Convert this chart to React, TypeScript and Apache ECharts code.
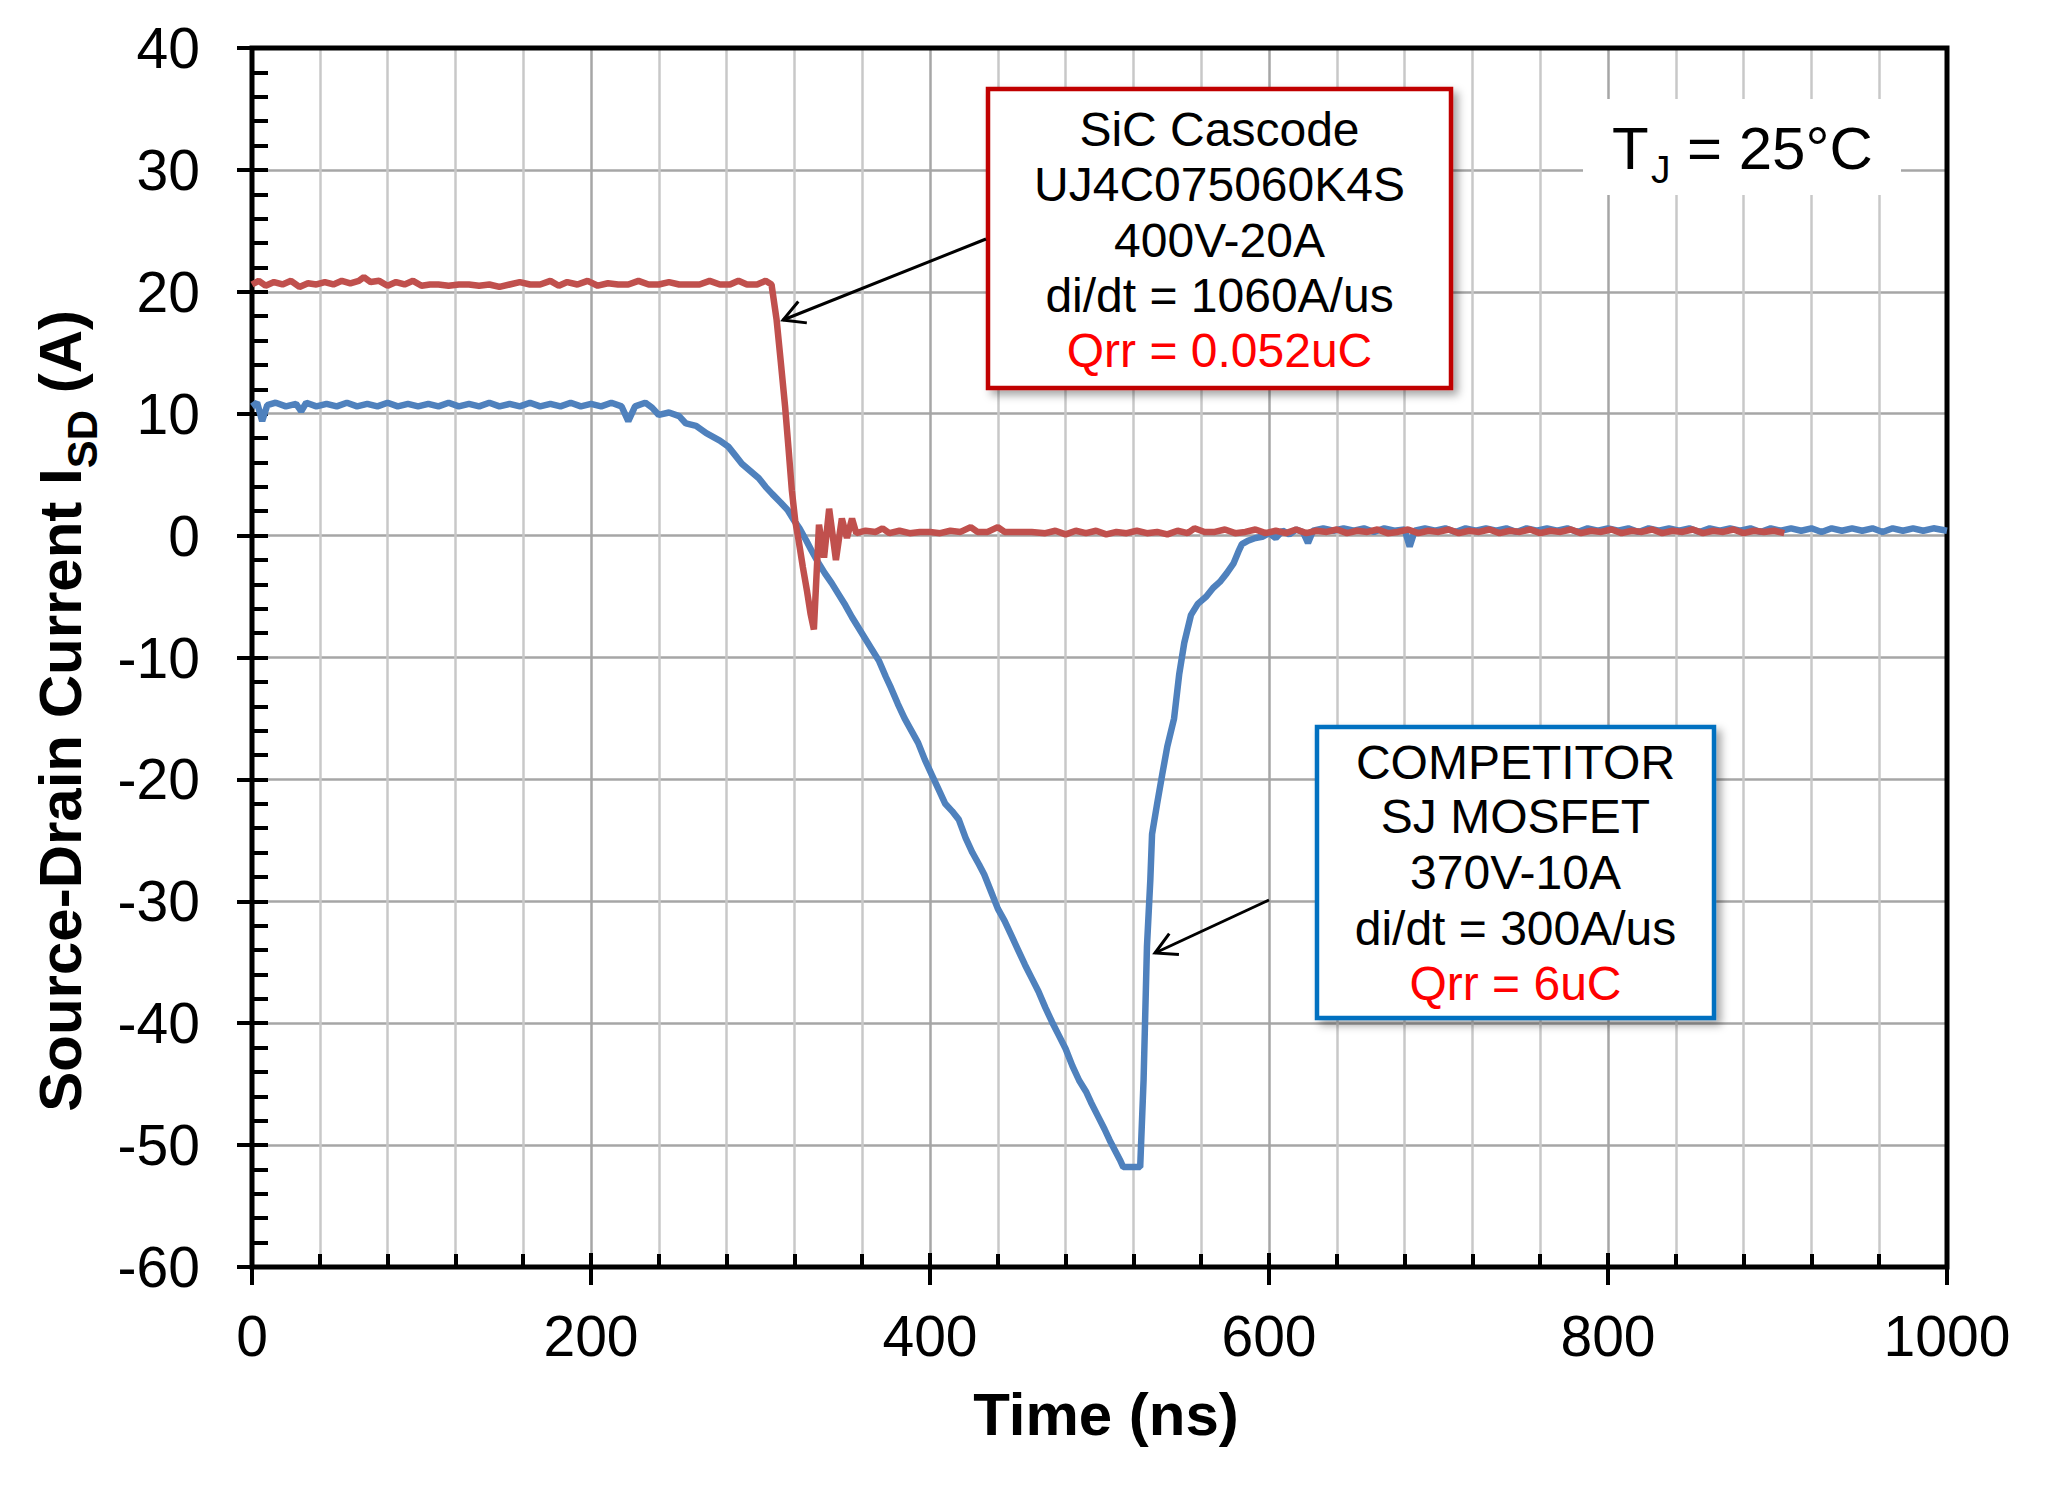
import * as echarts from "echarts";
import { useEffect, useRef } from "react";

const FONT = "'Liberation Sans', Arial, sans-serif";

// axis ranges
const timeRange = [0, 1000];
const timeStep = 200;
const currentRange = [-60, 40];
const currentStep = 10;

// SiC cascode trace, [time ns, current A]
const sicTrace = [
  [0, 20.6], [4, 20.9], [8, 20.5], [13, 20.8], [18, 20.6], [23, 20.9], [28, 20.4], [33, 20.7],
  [38, 20.6], [43, 20.8], [48, 20.6], [53, 20.9], [58, 20.7], [63, 20.9], [66, 21.2], [70, 20.8],
  [75, 20.9], [80, 20.5], [85, 20.8], [90, 20.6], [95, 20.9], [100, 20.5], [105, 20.6], [110, 20.6],
  [116, 20.5], [122, 20.6], [128, 20.6], [134, 20.5], [140, 20.6], [146, 20.4], [152, 20.6], [158, 20.8],
  [164, 20.6], [170, 20.6], [176, 20.9], [181, 20.5], [186, 20.8], [192, 20.6], [198, 20.9], [204, 20.5],
  [210, 20.7], [216, 20.6], [222, 20.6], [228, 20.9], [234, 20.6], [240, 20.6], [246, 20.8], [252, 20.6],
  [258, 20.6], [264, 20.6], [270, 20.9], [276, 20.6], [282, 20.6], [287, 20.9], [292, 20.6], [298, 20.6],
  [303, 20.9], [306.5, 20.6],
  [309.5, 17.7], [312, 14.2], [314.5, 10.6], [316.5, 7.2], [318.5, 3.7], [320.5, 1.2], [322.5, -0.4],
  [325, -2.6], [327.5, -4.6], [329.5, -6.4], [331.5, -7.7], [334.5, 0.9], [337.5, -1.8], [340.5, 2.2],
  [344.5, -2.0], [348, 1.4], [351, -0.2], [354, 1.4], [356.5, 0.2],
  [362, 0.4], [368, 0.3], [372, 0.6], [376, 0.2], [382, 0.4], [388, 0.2], [394, 0.3], [400, 0.3],
  [406, 0.2], [412, 0.4], [418, 0.3], [424, 0.7], [428, 0.3], [434, 0.3], [440, 0.7], [444, 0.3],
  [452, 0.3], [460, 0.3], [468, 0.2], [474, 0.4], [480, 0.1], [486, 0.4], [492, 0.2], [498, 0.4],
  [504, 0.1], [510, 0.3], [516, 0.2], [522, 0.4], [528, 0.2], [534, 0.3], [540, 0.1], [546, 0.4],
  [552, 0.2], [556, 0.6], [562, 0.3], [568, 0.3], [574, 0.5], [580, 0.2], [586, 0.3], [592, 0.5],
  [598, 0.2], [604, 0.4], [610, 0.2], [616, 0.5], [622, 0.2], [628, 0.4], [634, 0.3], [640, 0.5],
  [646, 0.2], [652, 0.4], [658, 0.3], [664, 0.5], [670, 0.2], [676, 0.3], [682, 0.5], [688, 0.2],
  [694, 0.4], [700, 0.3], [706, 0.5], [712, 0.2], [718, 0.4], [724, 0.3], [730, 0.5], [736, 0.2],
  [742, 0.4], [748, 0.3], [754, 0.5], [760, 0.2], [766, 0.4], [772, 0.3], [778, 0.5], [784, 0.2],
  [790, 0.4], [796, 0.3], [802, 0.5], [808, 0.2], [814, 0.4], [820, 0.3], [826, 0.5], [832, 0.2],
  [838, 0.4], [844, 0.3], [850, 0.5], [856, 0.2], [862, 0.4], [868, 0.3], [874, 0.5], [880, 0.2],
  [886, 0.4], [892, 0.3], [898, 0.4], [904, 0.2],
];

// competitor SJ MOSFET trace, [time ns, current A]
const sjTrace = [
  [0, 10.6], [3, 10.9], [6, 9.4], [9, 10.7], [14, 10.9], [20, 10.6], [26, 10.8], [29, 10.2],
  [32, 10.9], [38, 10.6], [44, 10.8], [50, 10.6], [56, 10.9], [62, 10.6], [68, 10.8], [74, 10.6],
  [80, 10.9], [86, 10.6], [92, 10.8], [98, 10.6], [104, 10.8], [110, 10.6], [116, 10.9], [122, 10.6],
  [128, 10.8], [134, 10.6], [140, 10.9], [146, 10.6], [152, 10.8], [158, 10.6], [164, 10.9], [170, 10.6],
  [176, 10.8], [182, 10.6], [188, 10.9], [194, 10.6], [200, 10.8], [206, 10.6], [212, 10.9], [218, 10.6],
  [222, 9.4], [226, 10.6], [232, 10.9], [236, 10.5], [240, 9.9], [246, 10.1], [252, 9.8], [256, 9.2],
  [262, 9.0], [268, 8.4], [272, 8.1], [276, 7.8], [281, 7.3], [285, 6.6], [289, 5.9], [294, 5.3],
  [299, 4.7], [303, 4.0], [307, 3.4], [312, 2.7], [316, 2.1], [320, 1.2], [323, 0.6], [327, -0.4],
  [330, -1.2], [334, -2.2], [338, -3.1], [342, -3.9], [346, -4.8], [350, -5.7], [354, -6.7], [358, -7.6],
  [362, -8.5], [366, -9.4], [370, -10.3], [374, -11.6], [377, -12.5], [381, -13.8], [385, -15.0], [389, -16.0],
  [393, -17.0], [397, -18.4], [401, -19.6], [405, -20.8], [409, -22.0], [413, -22.6], [417, -23.3], [421, -24.8],
  [425, -26.0], [429, -27.0], [432, -27.8], [436, -29.2], [440, -30.6], [444, -31.6], [448, -32.8], [452, -34.0],
  [456, -35.2], [460, -36.3], [464, -37.4], [468, -38.7], [472, -39.9], [476, -41.0], [480, -42.1], [484, -43.5],
  [488, -44.7], [492, -45.6], [495, -46.5], [499, -47.6], [503, -48.7], [506, -49.6], [509, -50.4], [512, -51.2],
  [514, -51.8], [519, -51.8], [524, -51.8], [526, -44.7], [528, -33.7], [530, -28.2], [531, -24.5], [534, -22.0],
  [537, -19.6], [540, -17.3], [544, -15.0], [547, -11.4], [550, -8.8], [554, -6.5], [558, -5.6], [563, -5.0],
  [567, -4.3], [571, -3.8], [575, -3.1], [579, -2.3], [582, -1.3], [584, -0.7], [588, -0.4], [592, -0.2],
  [596, -0.1], [600, 0.2], [604, -0.2], [608, 0.4], [612, 0.1], [616, 0.5], [620, 0.3], [623, -0.6],
  [626, 0.4], [632, 0.6], [638, 0.4], [644, 0.6], [650, 0.4], [656, 0.6], [662, 0.3], [668, 0.6],
  [674, 0.4], [680, 0.5], [683, -0.9], [686, 0.4], [692, 0.6], [698, 0.4], [704, 0.6], [710, 0.3],
  [716, 0.6], [722, 0.4], [728, 0.6], [734, 0.4], [740, 0.6], [746, 0.3], [752, 0.6], [758, 0.4],
  [764, 0.6], [770, 0.4], [776, 0.6], [782, 0.3], [788, 0.6], [794, 0.4], [800, 0.6], [806, 0.4],
  [812, 0.6], [818, 0.3], [824, 0.6], [830, 0.4], [836, 0.6], [842, 0.4], [848, 0.6], [854, 0.3],
  [860, 0.6], [866, 0.4], [872, 0.6], [878, 0.4], [884, 0.6], [890, 0.3], [896, 0.6], [902, 0.4],
  [908, 0.6], [914, 0.4], [920, 0.6], [926, 0.3], [932, 0.6], [938, 0.4], [944, 0.6], [950, 0.4],
  [956, 0.6], [962, 0.3], [968, 0.6], [974, 0.4], [980, 0.6], [986, 0.4], [992, 0.6], [1000, 0.4],
];

const sicNote = ["SiC Cascode", "UJ4C075060K4S", "400V-20A", "di/dt = 1060A/us", "Qrr = 0.052uC"];
const sjNote = ["COMPETITOR", "SJ MOSFET", "370V-10A", "di/dt = 300A/us", "Qrr = 6uC"];

const GRID = { left: 252, top: 48, width: 1695, height: 1219 };

function textWidth(text: string, font: string) {
  const ctx = document.createElement("canvas").getContext("2d");
  if (!ctx) return text.length * 30;
  ctx.font = font;
  return ctx.measureText(text).width;
}

function txt(text: string, x: number, y: number, size: number, extra: any = {}) {
  return {
    type: "text",
    x,
    y,
    z: 10,
    style: {
      text,
      fontSize: size,
      fontFamily: FONT,
      fill: "#000",
      align: "center",
      verticalAlign: "middle",
      ...extra,
    },
  };
}

// arrow from tail (x1,y1) to tip (x2,y2)
function arrow(x1: number, y1: number, x2: number, y2: number) {
  const a = Math.atan2(y1 - y2, x1 - x2);
  const len = 24;
  const spread = 0.5;
  return [
    { type: "line", z: 10, shape: { x1, y1, x2, y2 }, style: { stroke: "#000", lineWidth: 3 } },
    {
      type: "polyline",
      z: 10,
      shape: {
        points: [
          [x2 + len * Math.cos(a + spread), y2 + len * Math.sin(a + spread)],
          [x2, y2],
          [x2 + len * Math.cos(a - spread), y2 + len * Math.sin(a - spread)],
        ],
      },
      style: { stroke: "#000", lineWidth: 3, fill: null },
    },
  ];
}

function noteBox(lines: string[], x: number, y: number, w: number, h: number, color: string, lineYs: number[]) {
  return [
    {
      type: "rect",
      z: 10,
      shape: { x, y, width: w, height: h },
      style: {
        fill: "#fff",
        stroke: color,
        lineWidth: 4.5,
        shadowBlur: 8,
        shadowOffsetX: 5,
        shadowOffsetY: 5,
        shadowColor: "rgba(0,0,0,0.35)",
      },
    },
    ...lines.map((t, i) =>
      txt(t, x + w / 2, lineYs[i], 48, { fill: i === lines.length - 1 ? "#ff0000" : "#000" })
    ),
  ];
}

function yTitle() {
  const bold = `bold 60px ${FONT}`;
  const part1 = "Source-Drain Current I";
  const w1 = textWidth(part1, bold);
  const w2 = textWidth("SD", `bold 42px ${FONT}`);
  const w3 = textWidth(" (A)", bold);
  const total = w1 + w2 + w3;
  const endY = 310;
  const left = { align: "left", fontWeight: "bold" };
  return {
    type: "group",
    x: 60.5,
    y: endY + total,
    rotation: Math.PI / 2,
    children: [
      txt(part1, 0, 0, 60, left),
      txt("SD", w1, 21.5, 42, left),
      txt(" (A)", w1 + w2, 0, 60, left),
    ],
  };
}

function getOption() {
  const axisFont = { fontSize: 57, color: "#000", fontFamily: FONT, formatter: (v: number) => String(v) };
  const tickStyle = { color: "#000", width: 4 };
  return {
    animation: false,
    backgroundColor: "#fff",
    textStyle: { fontFamily: FONT },
    grid: {
      ...GRID,
      show: true,
      z: 1,
      backgroundColor: "transparent",
      borderColor: "#000",
      borderWidth: 5,
      containLabel: false,
      outerBoundsMode: "none",
    },
    xAxis: [
      {
        type: "value",
        min: timeRange[0],
        max: timeRange[1],
        interval: timeStep,
        position: "bottom",
        axisLine: { show: false, onZero: false },
        axisTick: { show: true, inside: true, length: 14, lineStyle: tickStyle },
        minorTick: { show: true, splitNumber: 5, length: 13, lineStyle: tickStyle },
        axisLabel: { ...axisFont, margin: 40 },
        splitLine: {
          show: true,
          showMinLine: false,
          showMaxLine: false,
          lineStyle: { color: "#a6a6a6", width: 2.5 },
        },
        minorSplitLine: { show: true, lineStyle: { color: "#c8c8c8", width: 2.5 } },
      },
      {
        // outer half of the major ticks, moved down onto the bottom edge
        type: "value",
        min: timeRange[0],
        max: timeRange[1],
        interval: timeStep,
        position: "top",
        offset: -GRID.height,
        axisLine: { show: false, onZero: false },
        axisTick: { show: true, inside: true, length: 18, lineStyle: tickStyle },
        axisLabel: { show: false },
        splitLine: { show: false },
      },
    ],
    yAxis: [
      {
        type: "value",
        min: currentRange[0],
        max: currentRange[1],
        interval: currentStep,
        position: "left",
        axisLine: { show: false, onZero: false },
        axisTick: { show: true, inside: true, length: 16, lineStyle: tickStyle },
        minorTick: { show: true, splitNumber: 5, length: 16, lineStyle: tickStyle },
        axisLabel: { ...axisFont, margin: 52 },
        splitLine: {
          show: true,
          showMinLine: false,
          showMaxLine: false,
          lineStyle: { color: "#a6a6a6", width: 2.5 },
        },
      },
      {
        // outer half of the major ticks, moved onto the left edge
        type: "value",
        min: currentRange[0],
        max: currentRange[1],
        interval: currentStep,
        position: "right",
        offset: -GRID.width,
        axisLine: { show: false, onZero: false },
        axisTick: { show: true, inside: true, length: 15, lineStyle: tickStyle },
        axisLabel: { show: false },
        splitLine: { show: false },
      },
    ],
    series: [
      {
        name: "COMPETITOR SJ MOSFET",
        type: "line",
        data: sjTrace,
        showSymbol: false,
        lineStyle: { color: "#4f81bd", width: 6.5 },
        z: 3,
      },
      {
        name: "SiC Cascode",
        type: "line",
        data: sicTrace,
        showSymbol: false,
        lineStyle: { color: "#c0504d", width: 6.5 },
        z: 4,
      },
    ],
    graphic: [
      yTitle(),
      txt("Time (ns)", 1106, 1414, 60, { fontWeight: "bold" }),
      {
        type: "rect",
        z: 9,
        shape: { x: 1583, y: 99, width: 318, height: 96 },
        style: { fill: "#fff" },
      },
      txt("T", 1612, 148.5, 60, { align: "left" }),
      txt("J", 1651, 169, 39, { align: "left" }),
      txt("= 25°C", 1687, 148.5, 60, { align: "left" }),
      ...noteBox(sicNote, 988, 89, 463, 299, "#c00000", [129, 184, 240, 295, 350]),
      ...arrow(986, 239, 783, 320),
      ...noteBox(sjNote, 1317, 727, 397, 291, "#0070c0", [762, 816, 872, 928, 983]),
      ...arrow(1269, 900, 1155, 953),
    ],
  };
}

const App = () => {
  const chartRef = useRef<HTMLDivElement>(null);

  useEffect(() => {
    if (!chartRef.current) {
      return;
    }
    const chart = echarts.init(chartRef.current, null, { renderer: "svg" });
    chart.setOption(getOption() as any);
    return () => {
      chart.dispose();
    };
  }, []);

  return (
    <div
      ref={chartRef}
      style={{ position: "absolute", left: 0, top: 0, width: 2048, height: 1486, background: "#fff" }}
    />
  );
};

export default App;
